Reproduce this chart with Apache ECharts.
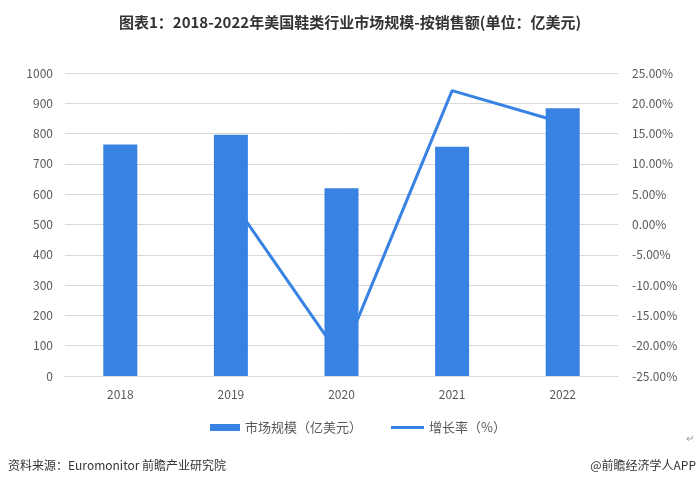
<!DOCTYPE html>
<html><head><meta charset="utf-8">
<script src="https://cdn.jsdelivr.net/npm/echarts@6/dist/echarts.min.js"></script>
<style>html,body{margin:0;padding:0;background:#fff;}#c{width:700px;height:487px;}</style>
</head><body><div id="c"></div>
<script>
const categories = ['2018', '2019', '2020', '2021', '2022'];
const marketSize = [764, 796, 620, 757, 884];
const growthRate = [null, 4.2, -22.1, 22.1, 16.8];
const leftTicks = {min: 0, max: 1000, interval: 100};
const rightTicks = {min: -25, max: 25, interval: 5};

const blue = '#3782e3';
const chart = echarts.init(document.getElementById('c'));
chart.setOption({
  backgroundColor: '#fff',
  animation: false,
  textStyle: {fontFamily: '"Noto Sans CJK SC", "Open Sans", sans-serif'},
  title: [{
    text: '图表1：2018-2022年美国鞋类行业市场规模-按销售额(单位：亿美元)',
    left: 'center', top: 10,
    textStyle: {fontSize: 15, fontWeight: 'bold', color: '#333', fontFamily: '"Noto Sans CJK SC", sans-serif'}
  }],
  graphic: [
    {type: 'text', left: 8, top: 459, style: {text: '资料来源：Euromonitor 前瞻产业研究院', fontSize: 12, fill: '#333', fontFamily: '"Noto Sans CJK SC", sans-serif'}},
    {type: 'text', right: 4, top: 459, style: {text: '@前瞻经济学人APP', fontSize: 12, fill: '#333', fontFamily: '"Noto Sans CJK SC", sans-serif'}},
    {type: 'text', right: 6, top: 434, style: {text: '↵', fontSize: 10, fill: '#999'}}
  ],
  legend: [{
    top: 416, left: 205, itemGap: 4,
    itemWidth: 30, itemHeight: 7,
    textStyle: {fontSize: 13, color: '#595959'},
    data: [{name: '市场规模（亿美元）', icon: 'rect'}]
  }, {
    top: 416, left: 386, itemGap: 4,
    itemWidth: 33, itemHeight: 3,
    textStyle: {fontSize: 13, color: '#595959'},
    data: [{name: '增长率（%）', icon: 'rect'}]
  }],
  grid: {left: 65, right: 82, top: 73, bottom: 111},
  xAxis: {
    type: 'category', data: categories,
    axisLine: {lineStyle: {color: '#d9d9d9'}},
    axisTick: {show: false},
    axisLabel: {color: '#595959', fontSize: 12, margin: 12}
  },
  yAxis: [{
    type: 'value', min: leftTicks.min, max: leftTicks.max, interval: leftTicks.interval,
    axisLine: {show: false}, axisTick: {show: false},
    axisLabel: {color: '#595959', fontSize: 12, margin: 12, formatter: v => String(v)},
    splitLine: {lineStyle: {color: '#d9d9d9'}}
  }, {
    type: 'value', min: rightTicks.min, max: rightTicks.max, interval: rightTicks.interval,
    axisLine: {show: false}, axisTick: {show: false},
    axisLabel: {color: '#595959', fontSize: 12, margin: 14, formatter: v => v.toFixed(2) + '%'},
    splitLine: {show: false}
  }],
  series: [{
    name: '市场规模（亿美元）', type: 'bar', data: marketSize, barWidth: 34,
    itemStyle: {color: blue}, z: 3
  }, {
    name: '增长率（%）', type: 'line', yAxisIndex: 1, data: growthRate,
    symbol: 'none', showSymbol: false, lineStyle: {color: blue, width: 3}, itemStyle: {color: blue}, z: 2
  }]
});
</script></body></html>
